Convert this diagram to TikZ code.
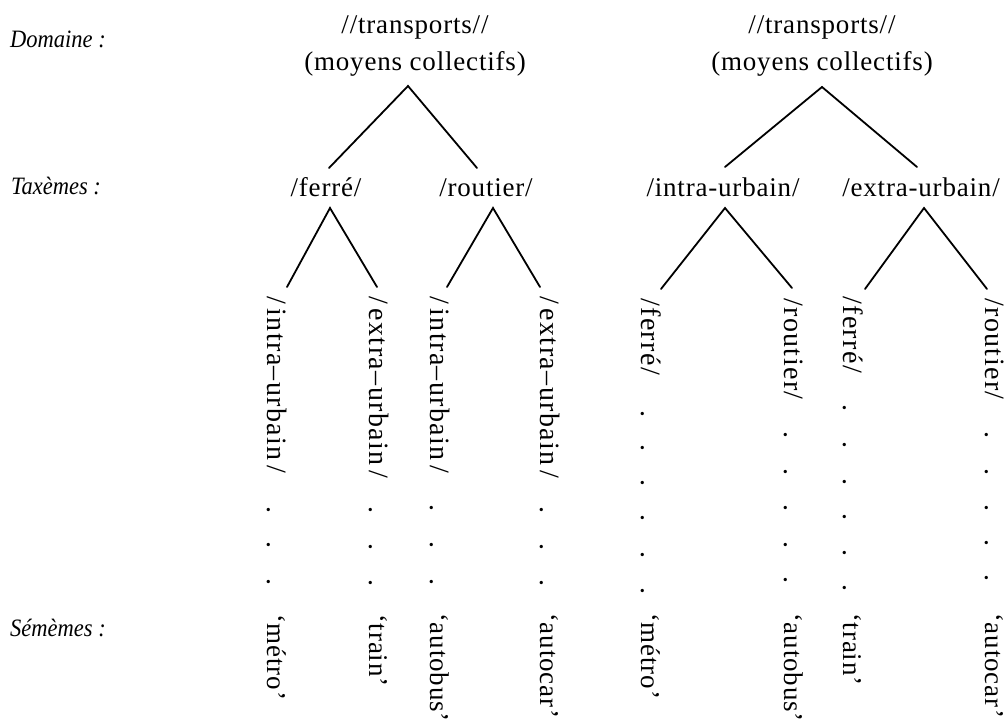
\documentclass[tikz,border=0pt]{standalone}
\usepackage{fontspec}
\setmainfont{Liberation Serif}[LetterSpace=3]
\newfontfamily\vfont{Liberation Serif}[LetterSpace=5]
\newfontfamily\sfont{Liberation Serif}[LetterSpace=3]
\newfontfamily\ifont{Liberation Serif Italic}[LetterSpace=0]
\newcommand{\condtxt}[1]{\scalebox{0.9}[1]{#1}}
\begin{document}
\begin{tikzpicture}[x=1pt,y=-1pt,
  lab/.style={font=\ifont\fontsize{25}{30}\selectfont, anchor=base west, inner sep=0pt},
  hw/.style={font=\fontsize{27}{30}\selectfont, anchor=base, inner sep=0pt},
  vw/.style={font=\vfont\fontsize{28}{30}\selectfont, rotate=-90, anchor=base west, inner sep=0pt},
  sw/.style={font=\sfont\fontsize{27}{30}\selectfont, rotate=-90, anchor=base west, inner sep=0pt},
  pt/.style={font=\vfont\fontsize{28}{30}\selectfont, rotate=-90, anchor=base, inner sep=0pt},
  leg/.style={line width=1.8pt, line cap=round}]
\fill[white] (0,0) rectangle (1005,722);
\useasboundingbox (0,0) rectangle (1005,722);

% level labels
\node[lab] (dom) at (10,48) {\condtxt{Domaine :}};
\node[lab] (tax) at (11,195) {\condtxt{Taxèmes :}};
\node[lab] (sem) at (10,636) {\condtxt{Sémèmes :}};

% domains
\node[hw] (r1a) at (415,34) {//transports//};
\node[hw] (r1b) at (415,71) {(moyens collectifs)};
\node[hw] (r2a) at (822,34) {//transports//};
\node[hw] (r2b) at (822,71) {(moyens collectifs)};

% taxemes
\node[hw] (t1) at (326,197) {/ferré/};
\node[hw] (t2) at (486,197) {/routier/};
\node[hw] (t3) at (723,197) {/intra-urbain/};
\node[hw] (t4) at (921,197) {/extra-urbain/};

% vertical sub-taxemes
\node[vw] (c1) at (267,296) {/\thinspace intra–urbain\thinspace/};
\node[vw] (c2) at (369,296) {/\thinspace extra–urbain\thinspace/};
\node[vw] (c3) at (430,296) {/\thinspace intra–urbain\thinspace/};
\node[vw] (c4) at (540,296) {/\thinspace extra–urbain\thinspace/};
\node[vw] (c5) at (641,298) {/ferré/};
\node[vw] (c6) at (784,298) {/routier/};
\node[vw] (c7) at (843,296) {/ferré/};
\node[vw] (c8) at (985,298) {/routier/};

% sememes
\node[sw] (s1) at (267,614) {‘métro’};
\node[sw] (s2) at (369,614) {‘train’};
\node[sw] (s3) at (430,613) {‘autobus’};
\node[sw] (s4) at (540,613) {‘autocar’};
\node[sw] (s5) at (641,613) {‘métro’};
\node[sw] (s6) at (784,613) {‘autobus’};
\node[sw] (s7) at (843,613) {‘train’};
\node[sw] (s8) at (985,613) {‘autocar’};

% dots
\foreach \x/\ys in {267/{510,545,582}, 369/{510,547,583}, 430/{508,545,582}, 540/{510,547,583},
                    641/{414,448,483,518,555,591}, 784/{435,472,508,545,580},
                    843/{408,445,482,517,553,588}, 985/{435,472,508,543,578}}
  \foreach \y in \ys \node[pt] (d-\x-\y) at (\x,\y) {.};

% first level connectors
\draw[leg] ([xshift=3pt,yshift=29pt]t1.base) -- ([xshift=-7pt,yshift=-15pt]r1b.base) -- ([xshift=-9pt,yshift=29pt]t2.base);
\draw[leg] ([xshift=2pt,yshift=30pt]t3.base) -- ([yshift=-16pt]r2b.base) -- ([xshift=-4pt,yshift=30pt]t4.base);

% second level connectors
\draw[leg] ([xshift=20pt,yshift=9pt]c1.base west) -- ([xshift=4pt,yshift=-11pt]t1.base) -- ([xshift=8pt,yshift=9pt]c2.base west);
\draw[leg] ([xshift=17pt,yshift=9pt]c3.base west) -- ([xshift=7pt,yshift=-11pt]t2.base) -- ([xshift=0pt,yshift=9pt]c4.base west);
\draw[leg] ([xshift=20pt,yshift=9pt]c5.base west) -- ([xshift=2pt,yshift=-11pt]t3.base) -- ([xshift=8pt,yshift=10pt]c6.base west);
\draw[leg] ([xshift=22pt,yshift=7pt]c7.base west) -- ([xshift=3pt,yshift=-11pt]t4.base) -- ([xshift=2pt,yshift=9pt]c8.base west);
\end{tikzpicture}
\end{document}
